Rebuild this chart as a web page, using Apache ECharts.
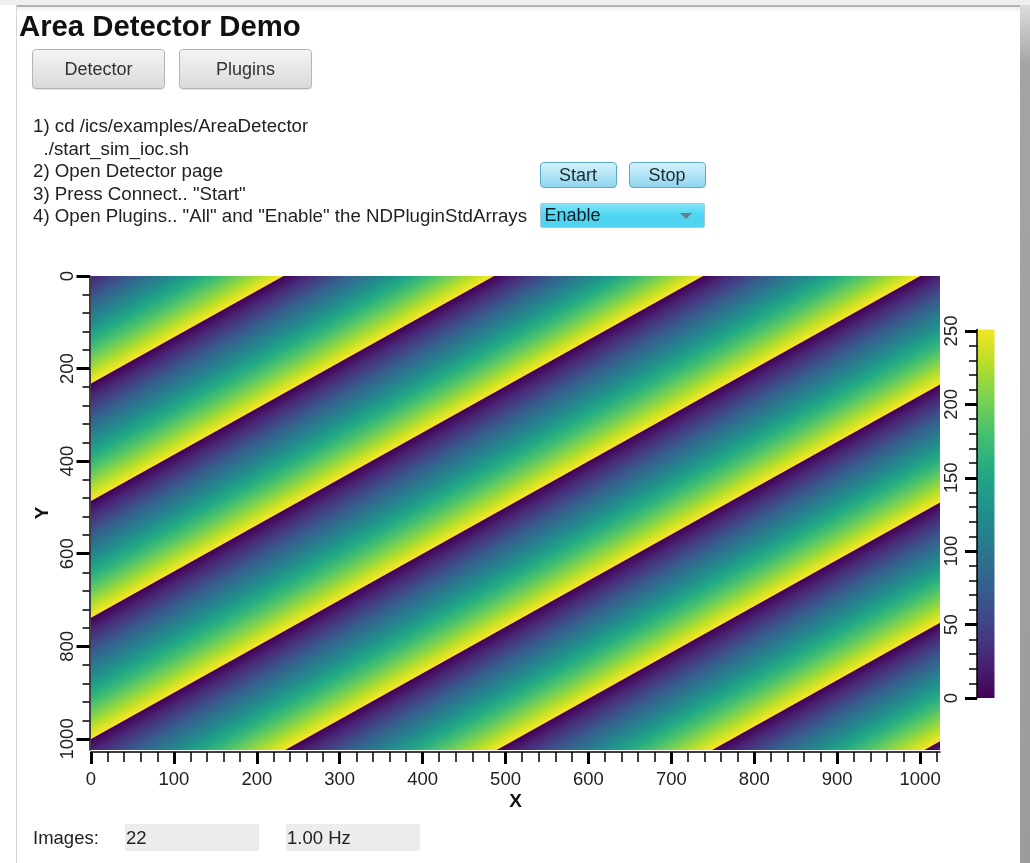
<!DOCTYPE html>
<html>
<head>
<meta charset="utf-8">
<script src="https://cdn.jsdelivr.net/npm/echarts@6/dist/echarts.min.js"></script>
<style>
html,body{margin:0;padding:0;width:1030px;height:863px;overflow:hidden;background:#fff;font-family:"Liberation Sans",Arial,sans-serif;color:#1a1a1a;}
#chart{position:absolute;left:0;top:0;width:1030px;height:863px;z-index:1;}
.ui{position:absolute;z-index:2;white-space:nowrap;}
#frameTop{left:0;top:0;width:1030px;height:5px;background:#efefef;}
#frameTopLine{left:16px;top:5px;width:1004px;height:2px;background:#b2b2b2;}
#frameTopShade{left:16px;top:7px;width:1004px;height:5px;background:linear-gradient(#eeeeee,#ffffff);}
#frameLeft{left:16px;top:5px;width:1px;height:858px;background:#d6d6d6;}
#frameRight{left:1020px;top:5px;width:10px;height:858px;background:linear-gradient(#dcdcdc 0px,#a4a4a4 60px,#9c9c9c 858px);}
#title{left:19px;top:10.5px;font-size:29.3px;line-height:29px;font-weight:bold;color:#111;}
.btn{height:38px;border:1px solid #b4b4b4;border-radius:4px;background:linear-gradient(#f4f4f4,#dadada);font-size:18px;line-height:38px;text-align:center;color:#333;box-shadow:0 1px 1px rgba(0,0,0,0.12);}
#btnDet{left:32px;top:49px;width:131px;}
#btnPlug{left:179px;top:49px;width:131px;}
#steps{left:33px;top:115px;font-size:18.7px;line-height:22.5px;color:#222;}
#steps .ind{padding-left:10.5px;}
.sbtn{height:24px;border:1px solid #5aa9c6;border-radius:4px;background:linear-gradient(#d3f2fc,#8fd6ee);font-size:18px;line-height:24px;text-align:center;color:#1d2b33;}
#btnStart{left:539.5px;top:162px;width:75px;}
#btnStop{left:628.5px;top:162px;width:75px;}
#enable{left:539.5px;top:202.5px;width:159px;height:23px;border:1px solid #a9c9d6;border-radius:2px;background:linear-gradient(#84e6fa,#4ed6f2 45%,#50d4f0);font-size:18px;line-height:23px;color:#0e1e26;padding-left:4px;}
#arrow{position:absolute;right:12px;top:9px;width:0;height:0;border-left:6px solid transparent;border-right:6px solid transparent;border-top:6px solid #6a7c84;}
#imgLbl{left:33px;top:824px;font-size:18.5px;line-height:27px;color:#222;}
.field{height:27px;background:#ececec;font-size:18.5px;line-height:27px;color:#222;}
#fImages{left:125px;top:824px;width:133px;padding-left:1px;}
#fRate{left:286px;top:824px;width:133px;padding-left:1px;}
</style>
</head>
<body>
<div class="ui" id="frameTop"></div>
<div class="ui" id="frameTopLine"></div>
<div class="ui" id="frameTopShade"></div>
<div class="ui" id="frameLeft"></div>
<div class="ui" id="frameRight"></div>
<div class="ui" id="title">Area Detector Demo</div>
<div class="ui btn" id="btnDet">Detector</div>
<div class="ui btn" id="btnPlug">Plugins</div>
<div class="ui" id="steps">
<div>1) cd /ics/examples/AreaDetector</div>
<div class="ind">./start_sim_ioc.sh</div>
<div>2) Open Detector page</div>
<div>3) Press Connect.. "Start"</div>
<div>4) Open Plugins.. "All" and "Enable" the NDPluginStdArrays</div>
</div>
<div class="ui sbtn" id="btnStart">Start</div>
<div class="ui sbtn" id="btnStop">Stop</div>
<div class="ui" id="enable">Enable<div id="arrow"></div></div>
<div class="ui" id="imgLbl">Images:</div>
<div class="ui field" id="fImages">22</div>
<div class="ui field" id="fRate">1.00 Hz</div>
<div id="chart"></div>
<script>
// ---- data ----
const imageWidth = 1024;
const imageHeight = 1024;
// x + y (pixels) along which the 8-bit ramp rolls over from 255 (yellow) to 0 (purple)
const wrapSums = [233, 487, 739, 1001, 1259, 1514, 1774, 2030];
const rampPeriod = 256;           // one full 0..255 ramp per band
const rampMax = 255;
const colorbarMax = 251;
const xMajorTicks = [0, 100, 200, 300, 400, 500, 600, 700, 800, 900, 1000];
const xMinorTicks = [0, 20, 40, 60, 80, 100, 120, 140, 160, 180, 200, 220, 240, 260, 280, 300, 320, 340, 360, 380, 400, 420, 440, 460, 480, 500, 520, 540, 560, 580, 600, 620, 640, 660, 680, 700, 720, 740, 760, 780, 800, 820, 840, 860, 880, 900, 920, 940, 960, 980, 1000, 1020];
const yMajorTicks = [0, 200, 400, 600, 800, 1000];
const yMinorTicks = [0, 40, 80, 120, 160, 200, 240, 280, 320, 360, 400, 440, 480, 520, 560, 600, 640, 680, 720, 760, 800, 840, 880, 920, 960, 1000];
const cbarMajorTicks = [0, 50, 100, 150, 200, 250];
const cbarMinorTicks = [0, 10, 20, 30, 40, 50, 60, 70, 80, 90, 100, 110, 120, 130, 140, 150, 160, 170, 180, 190, 200, 210, 220, 230, 240, 250];
const viridis = ['#440154', '#482576', '#414487', '#35608D', '#2A788E', '#21908C', '#22A884', '#43BF71', '#7AD151', '#BBDF27', '#FDE725'];

// bands between consecutive roll-over lines (leading/trailing partial bands use one ramp period)
const bands = [];
bands.push([wrapSums[0] - rampPeriod, wrapSums[0]]);
for (let i = 1; i < wrapSums.length; i++) bands.push([wrapSums[i - 1], wrapSums[i]]);
bands.push([wrapSums[wrapSums.length - 1], wrapSums[wrapSums.length - 1] + rampPeriod]);

const stops = viridis.map((c, i) => ({ offset: i / (viridis.length - 1), color: c }));

function clipHalf(poly, f) {
  const out = [];
  for (let i = 0; i < poly.length; i++) {
    const P = poly[i], Q = poly[(i + 1) % poly.length];
    const fp = f(P), fq = f(Q);
    if (fp >= 0) out.push(P);
    if ((fp >= 0) !== (fq >= 0)) {
      const t = fp / (fp - fq);
      out.push([P[0] + t * (Q[0] - P[0]), P[1] + t * (Q[1] - P[1])]);
    }
  }
  return out;
}
function bandPolygon(a, b) {
  let poly = [[0, 0], [imageWidth, 0], [imageWidth, imageHeight], [0, imageHeight]];
  poly = clipHalf(poly, p => p[0] + p[1] - a);
  poly = clipHalf(poly, p => b - (p[0] + p[1]));
  return poly;
}

function renderBand(params, api) {
  const a = api.value(0), b = api.value(1);
  const poly = bandPolygon(a - 0.8, b);
  if (poly.length < 3) return;
  const pts = poly.map(p => api.coord(p));
  const o = api.coord([a, 0]);
  const ox = api.coord([a + 1, 0]);
  const oy = api.coord([a, 1]);
  const gx = 1 / (ox[0] - o[0]);
  const gy = 1 / (oy[1] - o[1]);
  const lam = (b - a) / (gx * gx + gy * gy);
  const end = [o[0] + lam * gx, o[1] + lam * gy];
  return {
    type: 'polygon',
    shape: { points: pts },
    style: { fill: new echarts.graphic.LinearGradient(o[0], o[1], end[0], end[1], stops, true) }
  };
}

function renderColorbar(params, api) {
  const p0 = api.coord([0, 0]);
  const p1 = api.coord([1, api.value(1)]);
  const pr = api.coord([0, rampMax]);
  return {
    type: 'rect',
    shape: { x: p0[0], y: p1[1], width: p1[0] - p0[0], height: p0[1] - p1[1] },
    style: { fill: new echarts.graphic.LinearGradient(0, p0[1], 0, pr[1], stops, true) }
  };
}

const plain = v => String(v);
const labelFont = { fontFamily: 'Liberation Sans', fontSize: 18.5, color: '#222', formatter: plain };
const nameFont = { fontFamily: 'Liberation Sans', fontSize: 19, fontWeight: 'bold', color: '#111' };
const blackLine = { show: true, onZero: false, lineStyle: { color: '#000', width: 1.5 } };
const noLine = { show: false, onZero: false };

const chart = echarts.init(document.getElementById('chart'), null, { renderer: 'canvas' });
chart.setOption({
  animation: false,
  backgroundColor: 'transparent',
  textStyle: { fontFamily: 'Liberation Sans' },
  grid: [
    { left: 91, top: 276, width: 849, height: 474 },
    { left: 977, top: 329.5, width: 17.5, height: 368.5 }
  ],
  graphic: [
    {
      type: 'text', x: 43, y: 513, rotation: Math.PI / 2, z: 10,
      style: { text: 'Y', font: 'bold 19px "Liberation Sans"', fill: '#111', align: 'center', verticalAlign: 'middle' }
    }
  ],
  xAxis: [
    {
      gridIndex: 0, type: 'value', position: 'bottom', offset: 2, min: 0, max: imageWidth, z: 5,
      name: 'X', nameLocation: 'middle', nameGap: 40, nameMoveOverlap: false, nameTextStyle: nameFont,
      axisLine: blackLine,
      axisTick: { show: true, inside: false, customValues: xMajorTicks, length: 12, lineStyle: { color: '#000', width: 3 } },
      axisLabel: { show: true, inside: false, customValues: xMajorTicks, margin: 18, ...labelFont },
      splitLine: { show: false }
    },
    {
      gridIndex: 0, type: 'value', position: 'bottom', offset: 2, min: 0, max: imageWidth, z: 5,
      axisLine: noLine,
      axisTick: { show: true, inside: false, customValues: xMinorTicks, length: 10, lineStyle: { color: '#000', width: 1.5 } },
      axisLabel: { show: false },
      splitLine: { show: false }
    },
    { gridIndex: 1, type: 'value', min: 0, max: 1, show: false }
  ],
  yAxis: [
    {
      gridIndex: 0, type: 'value', position: 'left', offset: 1.5, inverse: true, min: 0, max: imageHeight, z: 5,
      axisLine: blackLine,
      axisTick: { show: true, inside: false, customValues: yMajorTicks, length: 13, lineStyle: { color: '#000', width: 3 } },
      axisLabel: { show: true, inside: false, customValues: yMajorTicks, rotate: 90, margin: 12, ...labelFont },
      splitLine: { show: false }
    },
    {
      gridIndex: 0, type: 'value', position: 'left', offset: 1.5, inverse: true, min: 0, max: imageHeight, z: 5,
      axisLine: noLine,
      axisTick: { show: true, inside: false, customValues: yMinorTicks, length: 7, lineStyle: { color: '#000', width: 1.5 } },
      axisLabel: { show: false },
      splitLine: { show: false }
    },
    {
      gridIndex: 1, type: 'value', position: 'left', min: 0, max: colorbarMax, z: 5,
      axisLine: blackLine,
      axisTick: { show: true, inside: false, customValues: cbarMajorTicks, length: 12, lineStyle: { color: '#000', width: 3 } },
      axisLabel: { show: true, inside: false, customValues: cbarMajorTicks, rotate: 90, margin: 16, ...labelFont },
      splitLine: { show: false }
    },
    {
      gridIndex: 1, type: 'value', position: 'left', min: 0, max: colorbarMax, z: 5,
      axisLine: noLine,
      axisTick: { show: true, inside: false, customValues: cbarMinorTicks, length: 8, lineStyle: { color: '#000', width: 1.5 } },
      axisLabel: { show: false },
      splitLine: { show: false }
    }
  ],
  series: [
    {
      type: 'custom', name: 'image', xAxisIndex: 0, yAxisIndex: 0,
      renderItem: renderBand, data: bands, silent: true, z: 1
    },
    {
      type: 'custom', name: 'colorbar', xAxisIndex: 2, yAxisIndex: 2,
      renderItem: renderColorbar, data: [[0, colorbarMax]], silent: true, z: 1
    }
  ]
});
</script>
</body>
</html>
